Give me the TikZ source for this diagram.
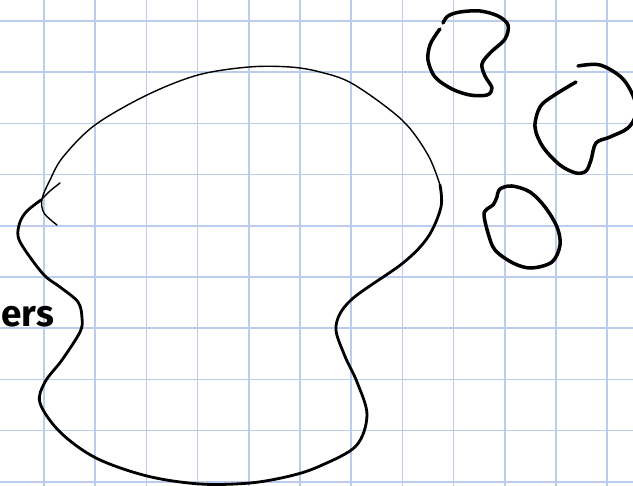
\documentclass[tikz,border=0pt]{standalone}
\usepackage{fontspec}
\newfontfamily\handfont{Fira Sans}
\definecolor{gridblue}{RGB}{188,204,236}
\tikzset{
  gridline/.style={draw=gridblue, line width=0.9pt},
  thinink/.style={draw=black, line width=0.8pt, line cap=round, line join=round},
  thickink/.style={draw=black, line width=1.6pt, line cap=round, line join=round},
  blobink/.style={draw=black, line width=2pt, line cap=round, line join=round},
}
\begin{document}
\begin{tikzpicture}[x=0.02cm, y=-0.02cm]
\useasboundingbox (0,0) rectangle (633,486);
\fill[white] (0,0) rectangle (633,486);
% grid
\foreach \i in {0,...,11} {
  \draw[gridline] ({44+51.2*\i},0) -- ({44+51.2*\i},486);
}
\foreach \j in {0,...,9} {
  \draw[gridline] (0,{21+51.2*\j}) -- (633,{21+51.2*\j});
}
% big blob: thin upper arc
\draw[thinink] plot[smooth, tension=0.55] coordinates {
  (57,225) (44,213) (42,199) (50,180) (63,157) (95,125) (147,95) (198,75) (249,67) (290,67) (320,72) (353,84) (402,120) (428,155) (440,185) };
% big blob: thick remainder
\draw[thickink] plot[smooth, tension=0.55] coordinates {
  (440,185) (441,207) (428,237) (403,263) (351,300) (336,326) (344,354) (357,382) (367,415) (356,446) (320,466) (290,476) (250,483) (200,484) (147,476) (96,458) (60,432) (40,403) (45,382) (62,360) (80,332) (82,318) (78,302) (60,287) (44,275) (25,250) (18,236) (20,222) (27,211) (41,200) };
\draw[thinink] plot[smooth, tension=0.5] coordinates { (41,200) (50,191) (60,183) };
% blob 1 (top)
\draw[blobink] plot[smooth, tension=0.55] coordinates {
  (443,23) (448,16) (460,12) (480,11) (498,16) (508,25) (505,39) (490,53) (482,64) (485,76) (492,88) (487,95) (470,95) (452,89) (435,77) (428,60) (430,45) (437,33) (440,29) };
% blob 2 (right)
\draw[blobink] plot[smooth, tension=0.55] coordinates {
  (578,66) (600,65) (622,78) (634,98) (636,114) (628,128) (610,137) (596,143) (591,160) (586,171) (576,173) (560,165) (543,147) (535,127) (540,107) (553,96) (576,82) };
% blob 3 (lower)
\draw[blobink] plot[smooth, tension=0.55] coordinates {
  (497,197) (500,189) (512,186) (530,192) (545,207) (557,227) (560,245) (552,262) (531,268) (513,263) (495,250) (488,233) (484,215) (487,209) (493,205) (497,197) };
% partial handwritten word
\node[anchor=base west, inner sep=0pt, font=\handfont\bfseries\fontsize{21}{21}\selectfont] (t) at (1,327) {ers};
\end{tikzpicture}
\end{document}
